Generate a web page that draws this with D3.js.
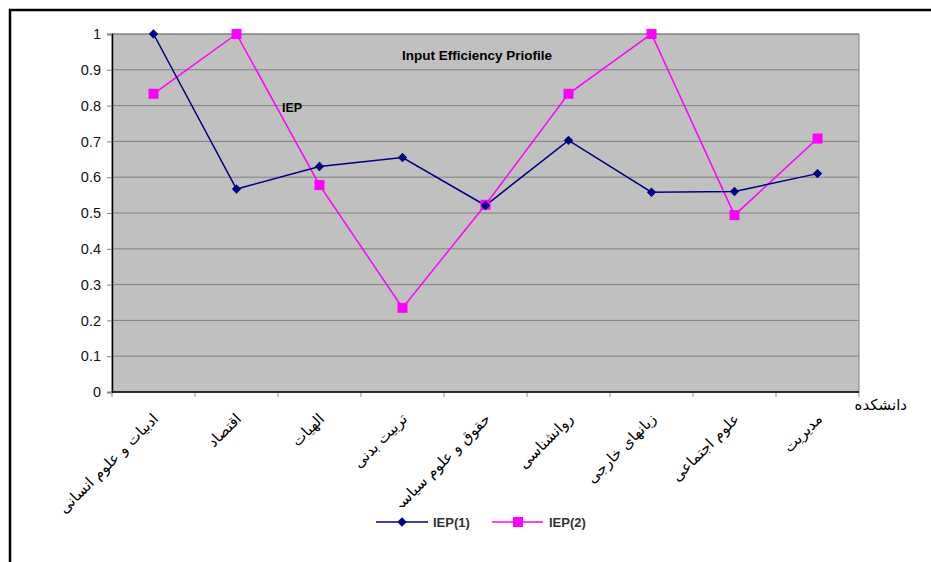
<!DOCTYPE html>
<html>
<head>
<meta charset="utf-8">
<script src="https://cdn.jsdelivr.net/npm/d3@7"></script>
<style>
  body { margin: 0; background: #fff; }
  svg { display: block; font-family: "Liberation Sans", Arial, sans-serif; }
</style>
</head>
<body>
<svg id="chart" width="931" height="562"></svg>
<script>
let WIDTH = 931, HEIGHT = 562;
let M = { top: 34, right: 72, bottom: 170, left: 112 };

let categories = ["ادبیات و علوم انسانی", "اقتصاد", "الهیات", "تربیت بدنی",
    "حقوق و علوم سیاسی", "روانشناسی", "زبانهای خارجی", "علوم اجتماعی", "مدیریت"];
let iep1 = [1, 0.567, 0.63, 0.655, 0.521, 0.703, 0.558, 0.56, 0.61];
let iep2 = [0.833, 1, 0.578, 0.235, 0.523, 0.833, 1, 0.494, 0.708];
let yTicks = [0, 0.1, 0.2, 0.3, 0.4, 0.5, 0.6, 0.7, 0.8, 0.9, 1];
let seriesNames = ["IEP(1)", "IEP(2)"];

let svg = d3.select("#chart");
let plotW = WIDTH - M.left - M.right;   // 747
let plotH = HEIGHT - M.top - M.bottom;  // 358

let x = d3.scaleBand().domain(categories).range([M.left, M.left + plotW]);
let y = d3.scaleLinear().domain([0, 1]).range([M.top + plotH, M.top]);

// outer frame (left + top)
svg.append("path")
    .attr("d", `M10,562 L10,10 L931,10`)
    .attr("fill", "none").attr("stroke", "#000").attr("stroke-width", 2.5);

// plot background
svg.append("rect")
    .attr("x", M.left).attr("y", M.top)
    .attr("width", plotW).attr("height", plotH)
    .attr("fill", "#c0c0c0")
    .attr("stroke", "#808080").attr("stroke-width", 1);

// gridlines
svg.append("g").selectAll("line")
    .data(yTicks.slice(1))
    .join("line")
    .attr("x1", M.left).attr("x2", M.left + plotW)
    .attr("y1", d => y(d)).attr("y2", d => y(d))
    .attr("stroke", "#808080").attr("stroke-width", 1);

// y axis
let yAxis = svg.append("g")
    .attr("transform", `translate(${M.left},0)`)
    .call(d3.axisLeft(y).tickValues(yTicks).tickSize(5).tickPadding(6)
        .tickFormat(d => d3.format("")(+d.toFixed(1))));
yAxis.select(".domain").attr("stroke", "#000").attr("stroke-width", 1.5);
yAxis.selectAll(".tick line").attr("stroke", "#808080");
yAxis.selectAll(".tick text")
    .attr("font-size", 14.5).attr("fill", "#111")
    .attr("font-family", "Liberation Sans, Arial, sans-serif");

// x axis: ticks at band boundaries
let bounds = categories.map(c => x(c)).concat([M.left + plotW]);
svg.append("g").selectAll("line")
    .data(bounds)
    .join("line")
    .attr("x1", d => d).attr("x2", d => d)
    .attr("y1", M.top + plotH).attr("y2", M.top + plotH + 5)
    .attr("stroke", "#909090");
svg.append("line")
    .attr("x1", M.left).attr("x2", M.left + plotW)
    .attr("y1", M.top + plotH).attr("y2", M.top + plotH)
    .attr("stroke", "#000").attr("stroke-width", 1.5);

// category labels (rotated); the long one near the legend is cut off like in the original
let clip = svg.append("defs").append("clipPath").attr("id", "lblclip");
clip.append("rect").attr("x", 0).attr("y", 0).attr("width", WIDTH).attr("height", 507);
clip.append("rect").attr("x", 0).attr("y", 0).attr("width", 330).attr("height", HEIGHT);

svg.append("g").attr("clip-path", "url(#lblclip)")
    .selectAll("text")
    .data(categories)
    .join("text")
    .attr("transform", d => `translate(${x(d) + x.bandwidth() / 2 + 2},${M.top + plotH + 24}) rotate(-45)`)
    .attr("text-anchor", "end")
    .attr("font-family", "DejaVu Sans, sans-serif")
    .attr("font-size", 15)
    .attr("fill", "#000")
    .attr("dy", "0.35em")
    .text(d => d);

// axis title
svg.append("text")
    .attr("x", 907).attr("y", 410)
    .attr("text-anchor", "end")
    .attr("font-family", "DejaVu Sans, sans-serif")
    .attr("font-size", 15)
    .text("دانشکده");

// chart title + label
svg.append("text")
    .attr("x", 477).attr("y", 60)
    .attr("text-anchor", "middle")
    .attr("font-weight", "bold").attr("font-size", 13.5)
    .text("Input Efficiency Priofile");
svg.append("text")
    .attr("x", 282).attr("y", 112)
    .attr("font-weight", "bold").attr("font-size", 12.5)
    .text("IEP");

// lines
let line = d3.line()
    .x((d, i) => x(categories[i]) + x.bandwidth() / 2)
    .y(d => y(d));

svg.append("path").datum(iep2)
    .attr("d", line).attr("fill", "none")
    .attr("stroke", "#ff00ff").attr("stroke-width", 1.5);
svg.append("path").datum(iep1)
    .attr("d", line).attr("fill", "none")
    .attr("stroke", "#000080").attr("stroke-width", 1.5);

let diamond = d3.symbol().type(d3.symbolSquare).size(44);

svg.append("g").selectAll("rect")
    .data(iep2)
    .join("rect")
    .attr("x", (d, i) => x(categories[i]) + x.bandwidth() / 2 - 5)
    .attr("y", d => y(d) - 5)
    .attr("width", 10).attr("height", 10)
    .attr("fill", "#ff00ff");

svg.append("g").selectAll("path")
    .data(iep1)
    .join("path")
    .attr("d", diamond)
    .attr("transform", (d, i) => `translate(${x(categories[i]) + x.bandwidth() / 2},${y(d)}) rotate(45)`)
    .attr("fill", "#000080");

// legend
let leg = svg.append("g").attr("transform", "translate(0,522)");
leg.append("line").attr("x1", 376).attr("x2", 428).attr("stroke", "#000080").attr("stroke-width", 1.5);
leg.append("path").attr("d", diamond).attr("transform", "translate(402,0) rotate(45)").attr("fill", "#000080");
leg.append("text").attr("x", 433).attr("y", 4.5).attr("font-weight", "bold").attr("font-size", 13)
    .attr("fill", "#333").text(seriesNames[0]);
leg.append("line").attr("x1", 492).attr("x2", 543).attr("stroke", "#ff00ff").attr("stroke-width", 1.5);
leg.append("rect").attr("x", 513).attr("y", -5).attr("width", 10).attr("height", 10).attr("fill", "#ff00ff");
leg.append("text").attr("x", 549).attr("y", 4.5).attr("font-weight", "bold").attr("font-size", 13)
    .attr("fill", "#333").text(seriesNames[1]);
</script>
</body>
</html>
